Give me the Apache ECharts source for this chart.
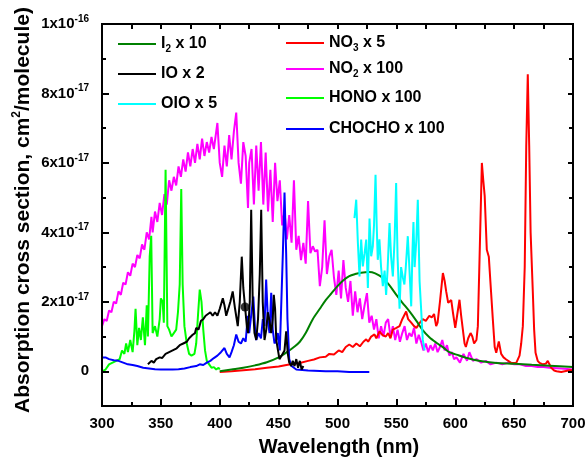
<!DOCTYPE html>
<html>
<head>
<meta charset="utf-8">
<script src="https://cdn.jsdelivr.net/npm/echarts@6/dist/echarts.min.js"></script>
<style>
html,body{margin:0;padding:0;background:#fff}
#chart{width:587px;height:457px}
</style>
</head>
<body>
<div id="chart"></div>
<script>
// values in units of 1e-17 cm2/molecule, wavelength in nm
const no2 = [[300,1.3],[302,1.5],[304,1.45],[306,1.75],[308,1.7],[310,2.0],[312,1.95],[314,2.3],[316,2.2],[318,2.55],[320,2.5],[322,2.85],[324,2.75],[326,3.1],[328,3.0],[330,3.35],[332,3.25],[334,3.65],[336,3.5],[338,4.0],[340,3.8],[342,4.45],[343,4.0],[345,4.6],[347,4.3],[349,4.85],[351,4.5],[353,5.1],[355,4.8],[357,5.5],[359,5.2],[361,5.6],[363,5.35],[365,5.9],[367,5.6],[369,6.1],[371,5.75],[373,6.3],[375,5.9],[377,6.4],[379,6.0],[381,6.55],[383,6.1],[385,6.7],[387,6.2],[389,6.6],[391,6.3],[393,6.75],[395,6.4],[397,6.9],[398,7.15],[400,6.0],[402,5.6],[404,6.5],[406,5.9],[408,6.8],[410,6.1],[412,6.9],[414,7.45],[416,6.0],[418,5.4],[420,6.6],[422,6.2],[424,4.7],[425,6.0],[427,6.4],[429,4.8],[431,6.5],[433,5.2],[435,6.6],[437,4.8],[439,6.3],[441,4.6],[443,5.8],[445,4.3],[447,6.0],[449,4.9],[451,5.5],[453,4.2],[455,4.6],[457,3.8],[459,4.5],[461,3.7],[463,5.5],[465,3.5],[467,3.9],[469,3.2],[471,3.7],[473,3.1],[475,4.9],[477,3.4],[479,3.6],[481,3.45],[483,3.5],[485,2.45],[487,3.0],[489,4.35],[491,2.8],[493,3.3],[495,3.5],[497,2.7],[499,2.2],[501,2.9],[503,2.1],[505,3.2],[507,2.4],[509,2.0],[511,2.6],[513,1.6],[515,2.3],[517,1.7],[519,2.1],[521,1.5],[523,1.9],[525,2.25],[527,1.4],[529,1.6],[531,1.2],[533,1.5],[535,0.95],[537,1.3],[539,1.0],[541,1.4],[543,1.5],[545,1.0],[547,1.3],[549,0.9],[551,1.2],[553,0.85],[555,1.1],[557,1.3],[559,0.9],[561,1.1],[563,1.0],[565,1.25],[567,0.8],[569,1.05],[571,0.85],[573,0.6],[575,0.8],[577,0.55],[579,0.75],[581,0.6],[583,0.8],[585,0.55],[587,0.7],[589,0.9],[591,0.6],[593,0.75],[595,0.45],[597,0.55],[599,0.35],[601,0.4],[604,0.25],[607,0.5],[610,0.3],[612,0.55],[615,0.3],[618,0.35],[622,0.25],[626,0.3],[630,0.2],[635,0.25],[640,0.2],[645,0.25],[650,0.2],[655,0.2],[660,0.15],[665,0.15],[670,0.12],[675,0.12],[680,0.1],[690,0.08],[700,0.05]];

const hono = [[300,0],[303,0.05],[306,0.2],[309,0.25],[312,0.3],[315,0.35],[317,0.6],[319,0.5],[320.5,0.8],[322,0.55],[324,0.9],[326,0.55],[327.5,1.15],[328.5,1.8],[330,0.75],[331.5,1.25],[333,0.9],[334.7,1.55],[336.5,0.75],[338,1.9],[339,1.0],[340.5,3.3],[341.8,3.9],[343,1.1],[345,1.3],[347,1.0],[349,1.5],[350,2.1],[351.5,2.0],[352.5,1.4],[354,5.8],[355.5,1.3],[357,1.2],[359,1.0],[361,1.1],[363,1.2],[364.5,1.7],[366,2.5],[367.3,5.25],[368.5,2.5],[370,1.3],[372,0.8],[374,0.5],[376,0.45],[378.5,0.5],[380,0.8],[381.5,1.6],[383,2.35],[384.5,2.0],[386,1.2],[387.5,0.6],[389,0.3],[391,0.2],[393,0.1],[395,0.12],[397,0.05],[399,0.1],[400,0.05]];

const i2 = [[400,0.0],[410,0.05],[420,0.1],[430,0.17],[440,0.26],[450,0.4],[457,0.55],[463,0.7],[468,0.85],[473,1.1],[479,1.5],[485,1.8],[490,2.05],[495,2.25],[500,2.45],[505,2.62],[510,2.74],[515,2.8],[520,2.84],[527,2.86],[532,2.82],[538,2.7],[544,2.48],[550,2.2],[555,1.98],[561,1.73],[567,1.45],[572,1.2],[578,0.98],[584,0.82],[590,0.68],[595,0.55],[601,0.48],[610,0.38],[620,0.3],[635,0.24],[650,0.22],[665,0.19],[680,0.16],[700,0.12]];

const no3 = [[400,-0.02],[410,0.0],[420,0.03],[430,0.06],[440,0.1],[450,0.14],[460,0.2],[468,0.24],[475,0.3],[480,0.34],[485,0.4],[490,0.42],[493,0.5],[497,0.48],[501,0.6],[504,0.55],[507,0.7],[510,0.77],[513,0.7],[516,0.8],[519,0.72],[522,0.85],[524.4,0.92],[526,0.85],[528.6,1.0],[531.4,1.06],[533,0.95],[535.7,1.15],[538,1.05],[541,1.0],[543,1.1],[545,0.95],[547,1.2],[550,1.25],[552.7,1.3],[555,1.5],[558.3,1.72],[560,1.5],[562.6,1.4],[565,1.3],[567,1.25],[570,1.4],[572.4,1.5],[575,1.45],[578,1.6],[580,1.55],[582,1.65],[583.8,1.3],[585,1.4],[587,2.0],[589.5,2.83],[591,2.6],[592.3,2.3],[594,1.97],[596.6,2.05],[598,1.7],[600,1.25],[602,1.7],[603.6,2.06],[605,1.6],[607.9,0.8],[609,0.7],[611,0.95],[613,1.1],[614.5,1.0],[616,0.8],[618,0.9],[619.2,1.3],[620.6,3.2],[622.6,6.0],[623.8,5.5],[625,5.05],[626.8,3.5],[628.5,3.3],[630,2.5],[631.9,1.5],[633.5,0.7],[634.8,0.53],[637,0.86],[639,0.5],[641,0.4],[643.3,0.34],[647.5,0.24],[651.8,0.24],[654.6,0.45],[656,0.8],[657.4,1.3],[659,3.0],[660.3,6.5],[661.6,8.55],[662.8,6.5],[664,4.0],[665.9,2.26],[667,1.2],[668.2,0.53],[670,0.3],[671.6,0.24],[674.5,0.2],[677,0.22],[678.6,0.3],[680,0.2],[681.5,0.1],[684,0.02],[686,0.0],[690,-0.02],[697,0.03],[700,0.03]];

const chocho = [[300,0.4],[303,0.4],[306,0.35],[310,0.32],[314,0.3],[318,0.25],[322,0.2],[326,0.18],[330,0.15],[335,0.1],[340,0.08],[345,0.06],[350,0.05],[355,0.05],[360,0.05],[365,0.06],[370,0.08],[375,0.12],[380,0.15],[383,0.2],[386,0.18],[389,0.25],[392,0.3],[395,0.38],[398,0.45],[401,0.55],[404,0.67],[406,0.5],[408.3,0.4],[410,0.55],[412,0.75],[414,1.06],[416,0.85],[418,0.8],[420,0.95],[422,0.85],[423.8,1.6],[425,1.1],[427,1.7],[428.5,2.15],[430,1.2],[431,0.9],[433,1.1],[435,0.95],[436.6,1.5],[438,1.3],[439.4,2.64],[441,1.4],[442.3,1.1],[443.7,2.26],[445,1.2],[446.5,0.8],[448,0.9],[449.3,1.1],[451,0.6],[452.2,0.55],[453.6,3.4],[455,5.15],[456.4,3.4],[457.5,1.5],[459,0.35],[461,0.15],[465,0.05],[475,0.02],[490,0.0],[500,0.0],[510,-0.02],[527,-0.02]];

const io = [[339,0.2],[342,0.3],[344,0.25],[346,0.35],[349,0.4],[351,0.38],[354,0.5],[357,0.55],[360,0.6],[363,0.65],[366,0.75],[369,0.8],[372,0.85],[374,0.95],[377,1.05],[379,1.1],[380,1.25],[382,1.2],[384,1.45],[386,1.5],[388,1.6],[390,1.65],[392,1.7],[394,1.6],[396,1.7],[398,1.6],[400,1.8],[402.6,2.1],[404,1.9],[405.5,1.6],[407,1.6],[409,2.0],[411,2.3],[413,1.8],[415.3,1.3],[417,2.0],[418.7,3.3],[420,2.4],[421.5,1.85],[423,1.3],[424,1.1],[425.5,2.0],[426.7,4.65],[428,2.0],[429.5,1.1],[431,0.9],[432.5,1.5],[434,2.8],[435.2,4.65],[436.5,2.0],[438,0.9],[439.5,1.2],[440.8,1.7],[442,1.5],[443.7,1.1],[445,1.5],[445.9,2.2],[447,1.8],[448,0.9],[450.7,0.35],[452.5,0.45],[455,0.6],[456.4,1.15],[457.8,0.5],[459,0.25],[460.7,0.15],[462,0.3],[463.5,0.15],[465,0.35],[466.5,0.1],[468,0.3],[469.5,0.05],[471,0.15]];
const ioDot = [[421.5,1.85]];

const oio = [[514.4,4.41],[515.9,4.94],[517.3,3.7],[518.7,2.73],[520.1,3.79],[521.5,3.02],[523,3.4],[524.4,3.79],[525.8,2.4],[527.2,4.4],[528.6,3.31],[530,3.6],[531,4.2],[532.3,5.66],[533.3,4.2],[534.2,3.21],[535.6,3.8],[537,3.0],[538.5,2.45],[540,2.9],[541.3,2.2],[542.5,2.9],[544.2,4.27],[545.5,3.3],[547,2.73],[548.5,3.8],[549.8,5.42],[551,3.3],[552.7,1.8],[554,3.0],[555.5,2.7],[556.8,2.5],[558,3.0],[559.7,3.89],[561,3.0],[562.6,1.87],[563.6,3.4],[564.5,4.3],[565.5,3.0],[567,3.8],[568.2,4.94],[569.7,2.6],[571,1.8],[572.4,0.91],[574,0.6]];

const yMajor = [0, 2, 4, 6, 8, 10];
const yMinor = [1, 3, 5, 7, 9];

const font = "'Liberation Sans', Arial, sans-serif";
const legendText = {
  I2: '{t|I}{sub|2}{t| x 10}',
  IO: '{t|IO x 2}',
  OIO: '{t|OIO x 5}',
  NO3: '{t|NO}{sub|3}{t| x 5}',
  NO2: '{t|NO}{sub|2}{t| x 100}',
  HONO: '{t|HONO x 100}',
  CHOCHO: '{t|CHOCHO x 100}'
};
function legendItem(name, left, top) {
  return {
    data: [name], left: left, top: top, padding: 0,
    icon: 'rect', itemWidth: 38, itemHeight: 2, selectedMode: false,
    formatter: n => legendText[n],
    textStyle: {rich: {
      t: {fontSize: 16, fontWeight: 'bold', fontFamily: font, color: '#000', lineHeight: 20},
      sub: {fontSize: 10, fontWeight: 'bold', fontFamily: font, color: '#000', verticalAlign: 'bottom', lineHeight: 14}
    }}
  };
}

function yLabel(v) {
  if (v === 0) return '{m|0}';
  if (v === 10) return '{m|1x10}{s|-16}';
  return '{m|' + v + 'x10}{s|-17}';
}

function axLine(show) {
  return {show: show, onZero: false, lineStyle: {color: '#000', width: 2}};
}

// y axes: left with labels, plus tick-only copies for minor ticks and the right side
function yAx(pos, ticks, len, labels, showLine) {
  const ax = {
    type: 'value', position: pos, min: -1, max: 10, z: 10,
    axisLine: axLine(showLine),
    splitLine: {show: false},
    axisTick: {show: true, inside: true, length: len, customValues: ticks, lineStyle: {color: '#000', width: 2}},
    axisLabel: {show: false}
  };
  if (labels) {
    ax.axisLabel = {
      show: true, customValues: ticks, margin: 13, formatter: yLabel,
      rich: {
        m: {fontSize: 15, fontWeight: 'bold', fontFamily: font, color: '#000', lineHeight: 20},
        s: {fontSize: 10, fontWeight: 'bold', fontFamily: font, color: '#000', verticalAlign: 'top', lineHeight: 14}
      }
    };
  }
  return ax;
}

function xAx(pos, interval, len, labels, showLine) {
  const ax = {
    type: 'value', position: pos, min: 300, max: 700, interval: interval, z: 10,
    axisLine: axLine(showLine),
    splitLine: {show: false},
    axisTick: {show: true, inside: true, length: len, lineStyle: {color: '#000', width: 2}},
    axisLabel: {show: false}
  };
  if (labels) {
    ax.axisLabel = {show: true, margin: 10, fontSize: 15, fontWeight: 'bold', fontFamily: font, color: '#000'};
  }
  return ax;
}

// each axis gets a series so that all of them are drawn
function line(name, data, color, xi, yi, extra) {
  return Object.assign({
    name: name, type: 'line', data: data, color: color, symbol: 'none',
    xAxisIndex: xi, yAxisIndex: yi,
    lineStyle: {width: 2, color: color}, animation: false
  }, extra || {});
}

const chart = echarts.init(document.getElementById('chart'));
chart.setOption({
  animation: false,
  grid: {left: 102, top: 24, right: 14, bottom: 51, outerBoundsMode: 'none', z: 10,
         show: true, borderColor: '#000', borderWidth: 2, backgroundColor: 'transparent'},
  xAxis: [
    xAx('bottom', 50, 7, true, true),
    xAx('top', 25, 5, false, true),
    xAx('bottom', 25, 4, false, false)
  ],
  yAxis: [
    yAx('left', yMajor, 7, true, true),
    yAx('left', yMinor, 4, false, false),
    yAx('right', yMajor, 5, false, true),
    yAx('right', yMinor, 4, false, false)
  ],
  graphic: [
    {
      // plot frame, drawn last
      type: 'rect', silent: true, z: 100,
      shape: {x: 102, y: 24, width: 471, height: 382},
      style: {fill: 'none', stroke: '#000', lineWidth: 2}
    },
    {
      type: 'text', x: 23, y: 210, rotation: Math.PI / 2, silent: true,
      style: {
        text: '{a|Absorption cross section, cm}{s|2}{a|/molecule)}',
        align: 'center', verticalAlign: 'middle',
        rich: {
          a: {fontSize: 21, fontWeight: 'bold', fontFamily: font, fill: '#000', lineHeight: 24},
          s: {fontSize: 12, fontWeight: 'bold', fontFamily: font, fill: '#000', verticalAlign: 'top', lineHeight: 14}
        }
      }
    },
    {
      type: 'text', x: 339, y: 447, silent: true,
      style: {
        text: 'Wavelength (nm)', align: 'center', verticalAlign: 'middle',
        fontSize: 20, fontWeight: 'bold', fontFamily: font, fill: '#000'
      }
    }
  ],
  legend: [
    legendItem('I2', 118, 36),
    legendItem('IO', 118, 66),
    legendItem('OIO', 118, 96),
    legendItem('NO3', 286, 35),
    legendItem('NO2', 286, 61),
    legendItem('HONO', 286, 90),
    legendItem('CHOCHO', 286, 121)
  ],
  series: [
    line('NO2', no2, '#ff00ff', 0, 0),
    line('HONO', hono, '#00ff00', 1, 1),
    line('NO3', no3, '#ff0000', 2, 2),
    line('I2', i2, '#008000', 0, 3, {smooth: 0.3}),
    line('CHOCHO', chocho, '#0000ff', 1, 0),
    line('IO', io, '#000000', 0, 0),
    {type: 'scatter', data: ioDot, symbolSize: 9, xAxisIndex: 0, yAxisIndex: 0, itemStyle: {color: '#000'}, animation: false},
    line('OIO', oio, '#00ffff', 2, 1)
  ]
});
</script>
</body>
</html>
